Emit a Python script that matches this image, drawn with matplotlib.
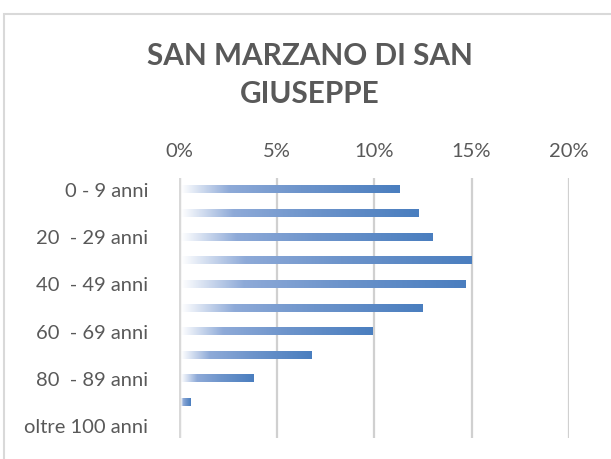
import numpy as np
import matplotlib
matplotlib.use("Agg")
import matplotlib.pyplot as plt
from matplotlib.colors import LinearSegmentedColormap
from matplotlib.patches import Rectangle

categories = ["0 - 9 anni", "10 - 19 anni", "20  - 29 anni", "30 - 39 anni",
              "40  - 49 anni", "50 - 59 anni", "60  - 69 anni", "70 - 79 anni",
              "80  - 89 anni", "90 - 99 anni", "oltre 100 anni"]
values = [11.3, 12.3, 13.0, 15.0, 14.7, 12.5, 9.9, 6.8, 3.8, 0.6, 0.0]
shown_labels = [c if i % 2 == 0 else "" for i, c in enumerate(categories)]
xticks = [0, 5, 10, 15, 20]
xtick_labels = ["0%", "5%", "10%", "15%", "20%"]
title = "SAN MARZANO DI SAN\nGIUSEPPE"

plt.rcParams['font.family'] = ['Lato', 'DejaVu Sans']
txt = "#595959"

fig = plt.figure(figsize=(6.11, 4.59), dpi=100)
# outer chart border
fig.patches.append(Rectangle((3.5 / 611, -0.05), 1.2, 1 - 14 / 459 + 0.05,
                             transform=fig.transFigure, fill=False,
                             edgecolor="#d9d9d9", linewidth=1.5))

ax = fig.add_axes([179 / 611, 1 - 438 / 459, (569 - 179) / 611, (438 - 178) / 459])

cmap = LinearSegmentedColormap.from_list(
    "grad", [(0.0, "#ffffff"), (0.22, "#8eaad8"), (0.55, "#6d94cb"), (1.0, "#4a7ebf")])
grad = np.linspace(0, 1, 256).reshape(1, -1)

n = len(categories)
ys = np.arange(n)
h = 0.30
for y, v in zip(ys, values):
    if v <= 0:
        continue
    ax.imshow(grad, cmap=cmap, aspect="auto", interpolation="bilinear",
              extent=[0.1, v, y + h / 2, y - h / 2], zorder=2)

ax.set_xlim(0, 20)
ax.set_ylim(n - 0.5, -0.5)
ax.set_aspect("auto")

for xv in xticks[1:]:
    ax.axvline(xv, color="#d0d0d0", linewidth=1.6, zorder=1)
ax.axvline(0, color="#d9d9d9", linewidth=2.5, zorder=3)

ax.xaxis.tick_top()
ax.set_xticks(xticks)
ax.set_xticklabels(xtick_labels, fontsize=14.5, color=txt)
ax.set_yticks(ys)
ax.set_yticklabels(shown_labels, fontsize=14.5, color=txt)
ax.tick_params(axis="both", length=0)
ax.tick_params(axis="x", pad=13)
ax.tick_params(axis="y", pad=22)
for s in ax.spines.values():
    s.set_visible(False)

fig.text(310 / 611, 1 - 75 / 459, title, ha="center", va="center",
         fontsize=21.4, fontweight="bold", color=txt, linespacing=1.45)

fig.savefig("out.png", dpi=100)
